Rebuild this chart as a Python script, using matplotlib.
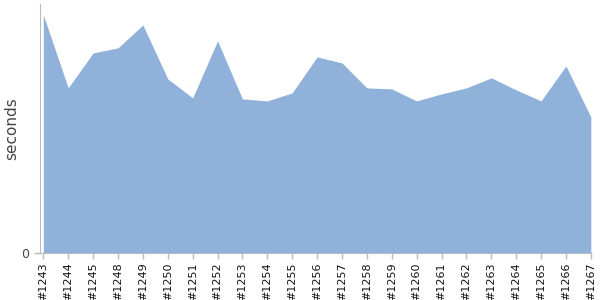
import matplotlib
matplotlib.use("Agg")
import matplotlib.pyplot as plt

builds = ['#1243', '#1244', '#1245', '#1248', '#1249', '#1250', '#1251', '#1252',
          '#1253', '#1254', '#1255', '#1256', '#1257', '#1258', '#1259', '#1260',
          '#1261', '#1262', '#1263', '#1264', '#1265', '#1266', '#1267']
seconds = [23.8, 16.5, 20.0, 20.5, 22.8, 17.4, 15.5, 21.2, 15.4, 15.2, 16.0, 19.6,
           19.0, 16.5, 16.4, 15.2, 15.9, 16.5, 17.5, 16.3, 15.2, 18.7, 13.6]

x = list(range(len(builds)))

fig = plt.figure(figsize=(6, 3), dpi=100)
ax = fig.add_axes([0.0667, 0.157, 0.918, 0.83])

ax.fill_between(x, seconds, 0, color='#8fb1da', linewidth=0)

ax.set_xlim(-0.133, len(builds) - 1)
ax.set_ylim(0, 24.9)

ax.set_xticks(x)
ax.set_xticklabels(builds, rotation=90, fontsize=8, color='#111111')
ax.set_yticks([0])
ax.set_yticklabels(['0'], fontsize=9, color='#444444')
ax.tick_params(axis='both', color='#bbbbbb', length=4, width=1)
ax.tick_params(axis='x', pad=3)

for side in ['top', 'right']:
    ax.spines[side].set_visible(False)
for side in ['left', 'bottom']:
    ax.spines[side].set_color('#bbbbbb')

ax.set_ylabel('seconds', fontsize=11, color='#444444')
ax.yaxis.set_label_coords(-0.037, 0.5)

fig.savefig('out.png')
